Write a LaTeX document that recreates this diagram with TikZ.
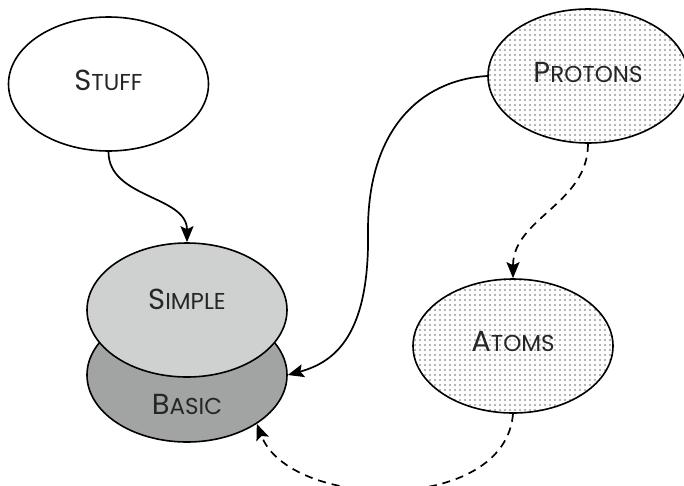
\documentclass[tikz,border=0pt]{standalone}
\usepackage{fontspec}
\setmainfont{Poppins}
\usetikzlibrary{shapes.geometric,arrows.meta,patterns.meta}
% fake small caps: large initial, smaller remaining capitals
\newcommand{\capsc}[2]{{\fontsize{29}{33}\selectfont #1}{\fontsize{23}{27}\selectfont #2}}
\definecolor{simplefill}{HTML}{CFD0D0}
\definecolor{basicfill}{HTML}{A2A3A3}
\definecolor{dotgray}{HTML}{9C9C9C}
\tikzset{
  blob/.style={ellipse, draw=black, line width=1.6pt, minimum width=200pt,
    minimum height=134pt, inner sep=0pt, text=black!85},
  dotted blob/.style={blob, preaction={fill=white},
    pattern={Dots[radius=1.05pt, distance=5pt]}, pattern color=dotgray},
  tag/.style={text=black!85},
  link/.style={line width=1.7pt, -{Stealth[length=16pt, width=13pt, inset=3pt]}},
  dashlink/.style={link, dash pattern=on 8pt off 6pt},
}
\begin{document}
\begin{tikzpicture}[x=1pt, y=1pt]
\useasboundingbox (0,0) rectangle (684,-485);

\node[blob, fill=white, label={[tag, yshift=4pt]center:\capsc{S}{TUFF}}] (stuff) at (108.5,-84) {};
\node[dotted blob, label={[tag, yshift=4pt]center:\capsc{P}{ROTONS}}] (protons) at (588,-76) {};
\node[dotted blob, label={[tag, yshift=4pt]center:\capsc{A}{TOMS}}] (atoms) at (513,-346) {};
\node[blob, fill=basicfill, label={[tag, yshift=-29pt]center:\capsc{B}{ASIC}}] (basic) at (187,-375) {};
\node[blob, fill=simplefill, label={[tag, yshift=11pt]center:\capsc{S}{IMPLE}}] (simple) at (187,-310) {};

\draw[link] (stuff.south) to[out=-90, in=90] (simple.north);
\draw[link] (protons.west) .. controls (420,-80) and (368,-130) .. (368,-230)
  .. controls (370,-335) and (335,-362) .. (basic.east);
\draw[dashlink] (protons.south) to[out=-90, in=90] (atoms.north);
\draw[dashlink] (atoms.south) .. controls (505,-515) and (290,-510) .. (basic.-35);
\end{tikzpicture}
\end{document}
